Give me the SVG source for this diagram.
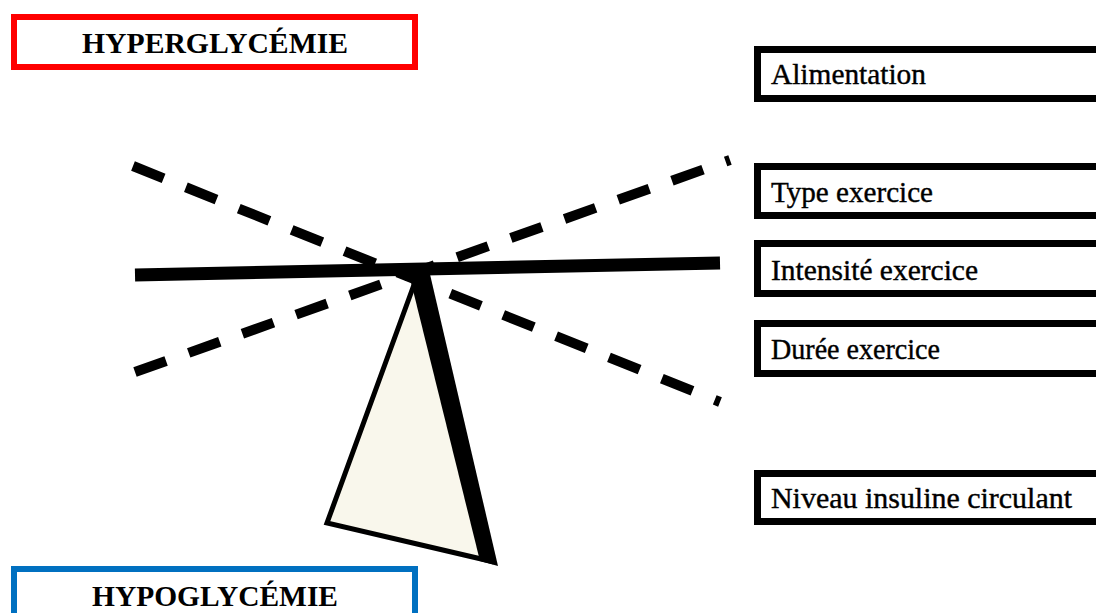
<svg xmlns="http://www.w3.org/2000/svg" width="1096" height="613" viewBox="0 0 1096 613">
  <style>
    .state { fill: #ffffff; stroke-width: 6; }
    .state-label { font-family: "Liberation Serif", serif; font-size: 30px; font-weight: bold; text-anchor: middle; fill: #000000; }
    .factor { fill: #ffffff; stroke: #000000; stroke-width: 7; }
    .factor-label { font-family: "Liberation Serif", serif; font-size: 30px; font-weight: 400; fill: #000000; stroke: #000000; stroke-width: 0.4; }
    .tilt { fill: none; stroke: #000000; stroke-width: 10; stroke-dasharray: 33 24; stroke-linecap: butt; }
    .beam { fill: none; stroke: #000000; stroke-width: 13; stroke-linecap: butt; }
  </style>

  <rect width="1096" height="613" fill="#ffffff"/>

  <!-- glycaemia states -->
  <g id="hyperglycemie">
    <rect class="state" x="14" y="17" width="401" height="50" stroke="#ff0000"/>
    <text class="state-label" x="215" y="53" textLength="266" lengthAdjust="spacingAndGlyphs">HYPERGLYCÉMIE</text>
  </g>
  <g id="hypoglycemie">
    <rect class="state" x="14" y="569" width="401" height="60" stroke="#0070c0"/>
    <text class="state-label" x="215" y="606" textLength="246" lengthAdjust="spacingAndGlyphs">HYPOGLYCÉMIE</text>
  </g>

  <!-- influencing factors -->
  <g id="alimentation">
    <rect class="factor" x="757.5" y="49.5" width="400" height="49"/>
    <text class="factor-label" x="771" y="84" textLength="155" lengthAdjust="spacingAndGlyphs">Alimentation</text>
  </g>
  <g id="type-exercice">
    <rect class="factor" x="757.5" y="166.5" width="400" height="49"/>
    <text class="factor-label" x="771" y="202" textLength="162" lengthAdjust="spacingAndGlyphs">Type exercice</text>
  </g>
  <g id="intensite-exercice">
    <rect class="factor" x="757.5" y="243.5" width="400" height="50"/>
    <text class="factor-label" x="771" y="280" textLength="207" lengthAdjust="spacingAndGlyphs">Intensité exercice</text>
  </g>
  <g id="duree-exercice">
    <rect class="factor" x="757.5" y="323.5" width="400" height="50"/>
    <text class="factor-label" x="771" y="359" textLength="169" lengthAdjust="spacingAndGlyphs">Durée exercice</text>
  </g>
  <g id="niveau-insuline">
    <rect class="factor" x="757.5" y="473.5" width="400" height="48"/>
    <text class="factor-label" x="771" y="508" textLength="301" lengthAdjust="spacingAndGlyphs">Niveau insuline circulant</text>
  </g>

  <!-- balance: tilted positions, beam and pivot -->
  <g id="connectors">
    <line class="tilt" x1="133" y1="166" x2="720" y2="402"/>
    <line class="tilt" x1="135" y1="372" x2="730" y2="160"/>
    <line class="beam" x1="135" y1="275" x2="720" y2="263"/>
  </g>
  <g id="pivot">
    <polygon points="415,282 327,523 490,561" fill="#f9f7ec" stroke="#000000" stroke-width="5" stroke-linejoin="miter"/>
    <polygon points="408,270 429,270 498,566 480,561" fill="#000000"/>
  </g>
</svg>
